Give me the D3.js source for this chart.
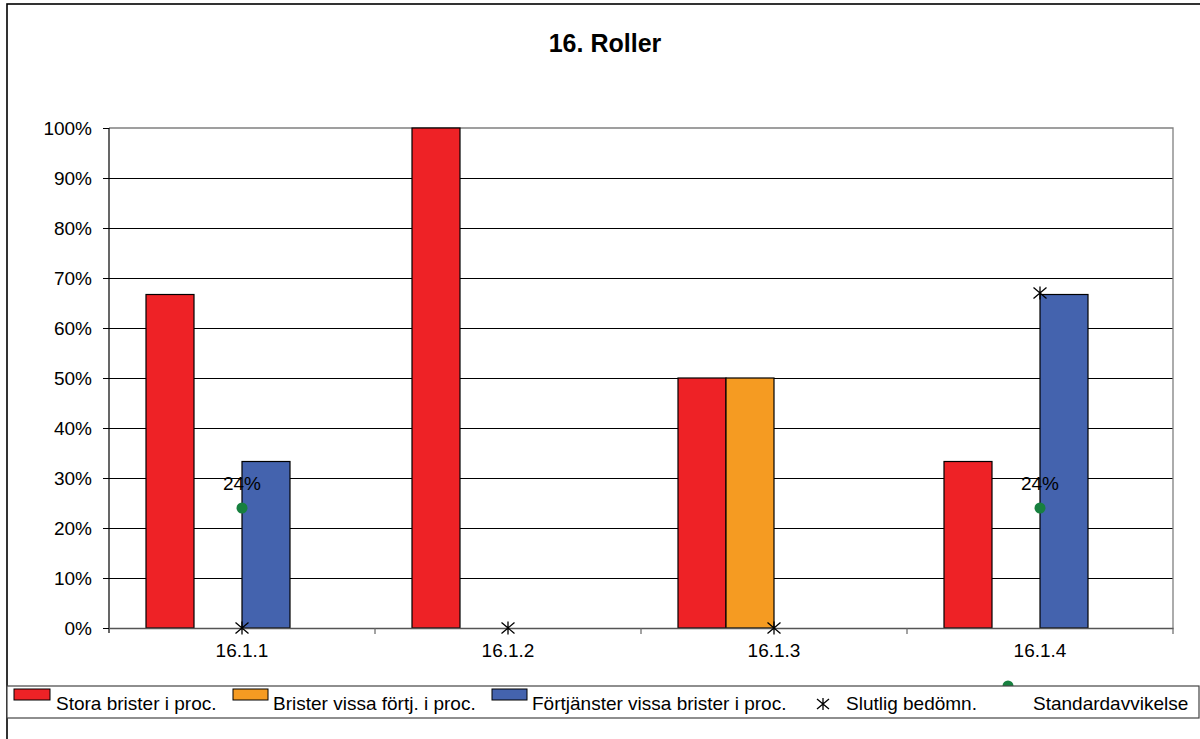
<!DOCTYPE html>
<html>
<head>
<meta charset="utf-8">
<script src="https://cdn.jsdelivr.net/npm/d3@7"></script>
<style>
  html, body { margin: 0; padding: 0; background: #fff; }
  svg { display: block; font-family: "Liberation Sans", Arial, sans-serif; }
</style>
</head>
<body>
<svg id="chart" width="1200" height="739"></svg>
<script>
// Categories and series values (fractions of 1)
const categories = ["16.1.1", "16.1.2", "16.1.3", "16.1.4"];
const storaBrister = [0.667, 1.0, 0.5, 0.333];
const bristerVissa = [0, 0, 0.5, 0];
const fortjanster = [0.333, 0, 0, 0.667];
const slutligBedomn = [0, 0, 0, 0.67];
const standardavvikelse = [0.24, null, null, 0.24];
const yTicks = [0, 0.1, 0.2, 0.3, 0.4, 0.5, 0.6, 0.7, 0.8, 0.9, 1.0];
const seriesNames = [
  "Stora brister i proc.",
  "Brister vissa förtj. i proc.",
  "Förtjänster vissa brister i proc.",
  "Slutlig bedömn.",
  "Standardavvikelse"
];
const barColors = ["#ee2226", "#f59b22", "#4463ae"];
const dotColor = "#17803f";
const fontSize = 19;

const svg = d3.select("#chart");
const plot = { left: 109, right: 1173, top: 128, bottom: 628 };

// Outer chart frame
svg.append("rect")
  .attr("x", 7).attr("y", 4).attr("width", 1200).attr("height", 760)
  .attr("fill", "#fff").attr("stroke", "#000").attr("stroke-width", 1.6);

// Title
svg.append("text")
  .attr("x", 605).attr("y", 52)
  .attr("text-anchor", "middle")
  .attr("font-size", 25).attr("font-weight", "bold")
  .text("16. Roller");

const x0 = d3.scaleBand().domain(categories).range([plot.left, plot.right]);
const bw = x0.bandwidth();
// four slots per category group, first three used by bar series
const x1 = d3.scaleBand().domain([0, 1, 2, 3]).range([bw * 0.1391, bw * 0.8609]);
const y = d3.scaleLinear().domain([0, 1]).range([plot.bottom, plot.top]);

// Horizontal gridlines
svg.append("g")
  .attr("shape-rendering", "crispEdges")
  .selectAll("line")
  .data(yTicks.filter(t => t > 0 && t < 1))
  .join("line")
  .attr("x1", plot.left).attr("x2", plot.right)
  .attr("y1", d => y(d)).attr("y2", d => y(d))
  .attr("stroke", "#000").attr("stroke-width", 1);

// Plot area border (top and right)
svg.append("path")
  .attr("d", `M${plot.left},${y(1)}H${plot.right}V${plot.bottom}`)
  .attr("fill", "none").attr("stroke", "#808080").attr("stroke-width", 1.3);

// Bars
const barSeries = [storaBrister, bristerVissa, fortjanster];
barSeries.forEach((vals, si) => {
  svg.append("g")
    .selectAll("rect")
    .data(categories.map((c, i) => ({ c, v: vals[i] })).filter(d => d.v > 0))
    .join("rect")
    .attr("x", d => x0(d.c) + x1(si))
    .attr("y", d => y(d.v))
    .attr("width", x1.bandwidth())
    .attr("height", d => y(0) - y(d.v))
    .attr("fill", barColors[si])
    .attr("stroke", "#000").attr("stroke-width", 1.2);
});

// Y axis
const yAxis = svg.append("g")
  .attr("transform", `translate(${plot.left},0)`)
  .call(d3.axisLeft(y).tickValues(yTicks).tickFormat(d3.format(".0%")).tickSize(6).tickPadding(11));
yAxis.select(".domain").attr("stroke", "#000").attr("stroke-width", 1.2)
  .attr("d", `M0,${y(1)}V${plot.bottom + 5}`);
yAxis.selectAll(".tick line").attr("stroke", "#000");
yAxis.selectAll(".tick text").attr("font-size", fontSize).attr("fill", "#000")
  .attr("font-family", "Liberation Sans, Arial, sans-serif");

// X axis: baseline, category boundary ticks, labels
const xAxis = svg.append("g")
  .attr("transform", `translate(0,${plot.bottom})`)
  .call(d3.axisBottom(x0).tickSize(0).tickPadding(16));
xAxis.select(".domain").attr("stroke", "#555").attr("stroke-width", 1.3);
xAxis.selectAll(".tick text").attr("font-size", fontSize).attr("fill", "#000")
  .attr("font-family", "Liberation Sans, Arial, sans-serif");
const bounds = categories.map(c => x0(c)).concat([x0.range()[1]]);
svg.append("g")
  .selectAll("line")
  .data(bounds.slice(1))
  .join("line")
  .attr("x1", d => d).attr("x2", d => d)
  .attr("y1", plot.bottom).attr("y2", plot.bottom + 6)
  .attr("stroke", "#666").attr("stroke-width", 1.2);

// Asterisk marker
function asterisk(sel, s) {
  sel.append("path")
    .attr("d", `M0,${-s}V${s}M${-s},${-s * 0.85}L${s},${s * 0.85}M${-s},${s * 0.85}L${s},${-s * 0.85}`)
    .attr("stroke", "#000").attr("stroke-width", 1.3).attr("fill", "none");
}

// Slutlig bedömn. markers
categories.forEach((c, i) => {
  const g = svg.append("g")
    .attr("transform", `translate(${x0(c) + bw / 2},${y(slutligBedomn[i])})`);
  asterisk(g, 6.5);
});

// Standardavvikelse dots with labels
const sd = categories.map((c, i) => ({ c, v: standardavvikelse[i] })).filter(d => d.v != null);
svg.append("g").selectAll("circle")
  .data(sd).join("circle")
  .attr("cx", d => x0(d.c) + bw / 2).attr("cy", d => y(d.v))
  .attr("r", 5.5).attr("fill", dotColor);
svg.append("g").selectAll("text")
  .data(sd).join("text")
  .attr("x", d => x0(d.c) + bw / 2).attr("y", d => y(d.v) - 18)
  .attr("text-anchor", "middle").attr("font-size", fontSize)
  .text(d => d3.format(".0%")(d.v));

// Legend
const lg = svg.append("g");
lg.append("circle").attr("cx", 1008).attr("cy", 686).attr("r", 5.5).attr("fill", dotColor);
lg.append("rect")
  .attr("x", 7).attr("y", 686).attr("width", 1192).attr("height", 32)
  .attr("fill", "#fff").attr("stroke", "#444").attr("stroke-width", 1.2);

const swatches = [
  { x: 14, w: 36, tx: 56 },
  { x: 233, w: 35, tx: 273 },
  { x: 492, w: 35, tx: 532 }
];
swatches.forEach((s, i) => {
  lg.append("rect")
    .attr("x", s.x).attr("y", 689).attr("width", s.w).attr("height", 11)
    .attr("fill", barColors[i]).attr("stroke", "#000").attr("stroke-width", 1);
  lg.append("text").attr("x", s.tx).attr("y", 710).attr("font-size", fontSize).text(seriesNames[i]);
});
const la = lg.append("g").attr("transform", "translate(823,704)");
asterisk(la, 6);
lg.append("text").attr("x", 846).attr("y", 710).attr("font-size", fontSize).text(seriesNames[3]);
lg.append("text").attr("x", 1033).attr("y", 710).attr("font-size", fontSize).text(seriesNames[4]);
</script>
</body>
</html>
